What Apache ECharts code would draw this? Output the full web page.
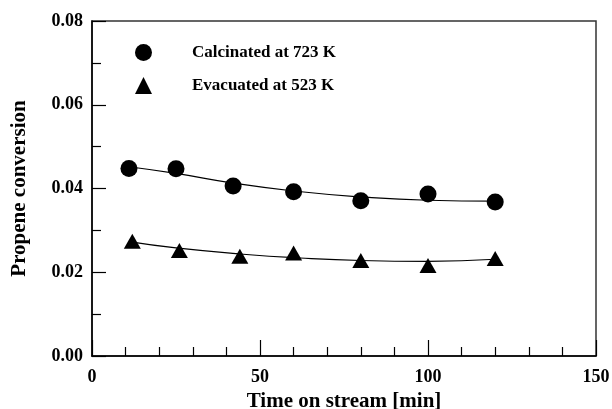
<!DOCTYPE html>
<html>
<head>
<meta charset="utf-8">
<script src="https://cdn.jsdelivr.net/npm/echarts@6/dist/echarts.min.js"></script>
<style>
  html, body { margin: 0; padding: 0; background: #fff; }
  #chart { width: 612px; height: 409px; }
</style>
</head>
<body>
<div id="chart"></div>
<script>
// measured points
var calcTime = [11, 25, 42, 60, 80, 100, 120];
var calcConv = [0.0448, 0.0447, 0.0406, 0.0392, 0.0371, 0.0387, 0.0368];
var evacTime = [12, 26, 44, 60, 80, 100, 120];
var evacConv = [0.0274, 0.0252, 0.0238, 0.0246, 0.0228, 0.0216, 0.0233];

// fitted curves
var calcFitTime = [11, 25, 42, 60, 80, 100, 120];
var calcFitConv = [0.0452, 0.0436, 0.0413, 0.0394, 0.0380, 0.0372, 0.0370];
var evacFitTime = [11, 25, 45, 62, 80, 100, 120];
var evacFitConv = [0.0273, 0.0258, 0.0243, 0.0234, 0.0228, 0.0226, 0.0231];

var xTicks = [0, 50, 100, 150];
var yTicks = [0, 0.02, 0.04, 0.06, 0.08];

function pairs(xs, ys) {
  return xs.map(function (x, i) { return [x, ys[i]]; });
}

var font = 'Liberation Serif, Times New Roman, serif';

var chart = echarts.init(document.getElementById('chart'));
chart.setOption({
  animation: false,
  grid: {
    left: 92, right: 16, top: 21, bottom: 53,
    outerBoundsMode: 'none',
    show: true,
    borderColor: '#333',
    borderWidth: 1.5
  },
  legend: {
    data: ['Calcinated at 723 K', 'Evacuated at 523 K'],
    orient: 'vertical',
    left: 130,
    top: 39,
    itemWidth: 17,
    itemHeight: 17,
    itemGap: 16,
    textStyle: {
      fontFamily: font,
      fontWeight: 'bold',
      fontSize: 17,
      color: '#000',
      padding: [0, 0, 0, 35]
    }
  },
  xAxis: {
    type: 'value',
    min: 0,
    max: 150,
    interval: 50,
    name: 'Time on stream [min]',
    nameLocation: 'middle',
    nameGap: 33,
    nameTextStyle: { fontFamily: font, fontWeight: 'bold', fontSize: 21, color: '#000' },
    axisLine: { show: true, onZero: false, lineStyle: { color: '#000', width: 1.5 } },
    axisTick: { show: true, inside: true, length: 16, lineStyle: { color: '#000', width: 1.2 } },
    minorTick: { show: true, splitNumber: 5, length: 9, lineStyle: { color: '#000', width: 1.2 } },
    axisLabel: {
      margin: 12,
      fontFamily: font, fontWeight: 'bold', fontSize: 18, color: '#000',
      formatter: function (v) { return xTicks.indexOf(v) >= 0 ? String(v) : ''; }
    },
    splitLine: { show: false }
  },
  yAxis: {
    type: 'value',
    min: 0,
    max: 0.08,
    interval: 0.02,
    name: 'Propene conversion',
    nameLocation: 'middle',
    nameGap: 62,
    nameTextStyle: { fontFamily: font, fontWeight: 'bold', fontSize: 21, color: '#000' },
    axisLine: { show: true, onZero: false, lineStyle: { color: '#000', width: 1.5 } },
    axisTick: { show: true, inside: true, length: 14, lineStyle: { color: '#000', width: 1.2 } },
    minorTick: { show: true, splitNumber: 2, length: 9, lineStyle: { color: '#000', width: 1.2 } },
    axisLabel: {
      margin: 9,
      fontFamily: font, fontWeight: 'bold', fontSize: 18, color: '#000',
      formatter: function (v) {
        var hit = yTicks.some(function (t) { return Math.abs(t - v) < 1e-9; });
        return hit ? v.toFixed(2) : '';
      }
    },
    splitLine: { show: false }
  },
  series: [
    {
      name: 'calcFit',
      type: 'line',
      smooth: true,
      showSymbol: false,
      symbol: 'none',
      data: pairs(calcFitTime, calcFitConv),
      lineStyle: { color: '#000', width: 1.2 },
      z: 1
    },
    {
      name: 'evacFit',
      type: 'line',
      smooth: true,
      showSymbol: false,
      symbol: 'none',
      data: pairs(evacFitTime, evacFitConv),
      lineStyle: { color: '#000', width: 1.2 },
      z: 1
    },
    {
      name: 'Calcinated at 723 K',
      type: 'scatter',
      symbol: 'circle',
      symbolSize: 17,
      itemStyle: { color: '#000', opacity: 1 },
      data: pairs(calcTime, calcConv),
      z: 3
    },
    {
      name: 'Evacuated at 523 K',
      type: 'scatter',
      symbol: 'triangle',
      symbolSize: [17, 15],
      itemStyle: { color: '#000', opacity: 1 },
      data: pairs(evacTime, evacConv),
      z: 3
    }
  ]
});
</script>
</body>
</html>
